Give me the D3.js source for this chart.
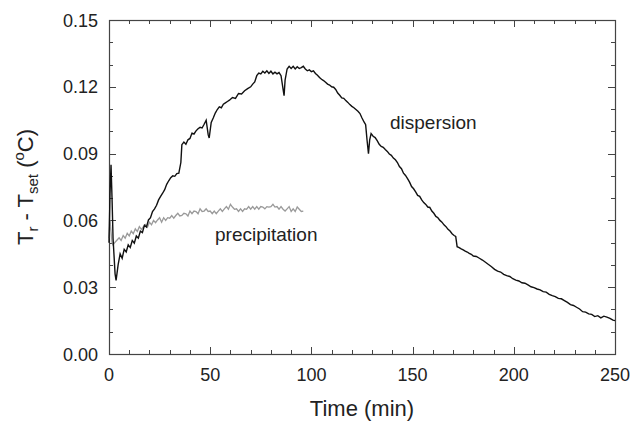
<!DOCTYPE html>
<html>
<head>
<meta charset="utf-8">
<script src="https://cdn.jsdelivr.net/npm/d3@7"></script>
<style>
  body { margin: 0; background: #fff; }
  text { font-family: "Liberation Sans", Arial, sans-serif; fill: #222; }
</style>
</head>
<body>
<div id="chart"></div>
<script>
var width = 632, height = 424;
var margin = { left: 109, right: 17, top: 20, bottom: 70 };

// dispersion run (black)
var dispT = [0, 0.5, 1, 1.5, 2, 3, 3.5, 4.5, 5.5, 6.5, 7.5, 8.5, 9.5, 10.5, 11.5, 12.5, 13.5, 14.5, 15.5, 16.5,
  17.5, 18.5, 19.5, 20.5, 21.5, 22.5, 23.5, 24.5, 25.5, 26.5, 27.5, 28.5, 29.5, 30.5, 31.5, 32.5, 33.5, 34.5, 35.5, 36,
  37, 38, 39, 40, 41, 42, 43, 44, 45, 46, 47, 48, 49, 49.5, 50.5, 51.5, 52.5, 53.5, 54.5, 55.5,
  56.5, 57.5, 58.5, 59.5, 61, 62.5, 64, 65.5, 67, 68.5, 70, 71, 72, 73, 74, 75, 76, 77, 78, 79,
  80, 81, 82, 83, 84, 85, 86, 86.5, 87, 88, 89, 90, 91, 92, 93, 94, 95, 96, 97, 98,
  99, 100, 101, 102, 103, 104, 105, 106, 107, 108, 109, 110, 111, 112, 113, 114, 115, 116, 117, 118,
  119, 120, 121, 122, 123, 124, 125, 126, 126.8, 127.5, 128.2, 128.8, 129.5, 130.5, 131.5, 132.5, 133.5, 134.5, 135.5, 136.5,
  137.5, 138.5, 139.5, 140.5, 141.5, 142.5, 143.5, 144.5, 145.5, 146.5, 147.5, 148.5, 149.5, 150.5, 151.5, 152.5, 153.5, 154.5, 155.5, 156.5,
  157.5, 158.5, 159.5, 160.5, 161.5, 162.5, 163.5, 164.5, 165.5, 166.5, 167.5, 168.5, 169.5, 170.5, 171.3, 172, 173, 174, 175, 176,
  177, 178, 179, 180, 181.5, 183, 184.5, 186, 187.5, 189, 190.5, 192, 193.5, 195, 196.5, 198, 199.5, 201, 202.5, 204,
  205.5, 207, 208.5, 210, 211.5, 213, 214.5, 216, 217.5, 219, 220.5, 222, 223.5, 225, 226.5, 228, 229.5, 231, 232.5, 234,
  235.5, 237, 238.5, 240, 241.5, 243, 244.5, 246, 247.5, 249, 250];
var dispV = [0.0500, 0.0720, 0.0850, 0.0700, 0.0520, 0.0360, 0.0330, 0.0400, 0.0450, 0.0430, 0.0470, 0.0458, 0.0490, 0.0478, 0.0510, 0.0498, 0.0530, 0.0520, 0.0552, 0.0545,
  0.0578, 0.0570, 0.0602, 0.0612, 0.0640, 0.0652, 0.0668, 0.0692, 0.0708, 0.0722, 0.0738, 0.0762, 0.0778, 0.0792, 0.0800, 0.0798, 0.0810, 0.0812, 0.0860, 0.0940,
  0.0952, 0.0942, 0.0962, 0.0968, 0.0992, 0.0988, 0.1002, 0.1012, 0.1018, 0.1015, 0.1032, 0.1050, 0.0985, 0.0970, 0.1040, 0.1060, 0.1082, 0.1098, 0.1110, 0.1106,
  0.1122, 0.1128, 0.1134, 0.1140, 0.1152, 0.1148, 0.1170, 0.1168, 0.1182, 0.1192, 0.1200, 0.1212, 0.1222, 0.1250, 0.1262, 0.1258, 0.1270, 0.1262, 0.1272, 0.1260,
  0.1270, 0.1258, 0.1266, 0.1258, 0.1264, 0.1250, 0.1190, 0.1160, 0.1230, 0.1280, 0.1292, 0.1282, 0.1292, 0.1280, 0.1290, 0.1282, 0.1286, 0.1292, 0.1280, 0.1272,
  0.1276, 0.1268, 0.1272, 0.1260, 0.1252, 0.1242, 0.1234, 0.1228, 0.1220, 0.1212, 0.1208, 0.1200, 0.1198, 0.1188, 0.1172, 0.1162, 0.1150, 0.1148, 0.1138, 0.1130,
  0.1120, 0.1112, 0.1106, 0.1098, 0.1090, 0.1080, 0.1060, 0.1042, 0.1030, 0.0960, 0.0900, 0.0962, 0.0990, 0.0978, 0.0972, 0.0958, 0.0942, 0.0932, 0.0928, 0.0918,
  0.0910, 0.0898, 0.0892, 0.0880, 0.0872, 0.0860, 0.0842, 0.0832, 0.0812, 0.0802, 0.0788, 0.0772, 0.0752, 0.0742, 0.0728, 0.0712, 0.0708, 0.0692, 0.0680, 0.0672,
  0.0660, 0.0658, 0.0642, 0.0632, 0.0618, 0.0612, 0.0600, 0.0592, 0.0580, 0.0572, 0.0560, 0.0552, 0.0540, 0.0532, 0.0528, 0.0482, 0.0478, 0.0472, 0.0468, 0.0462,
  0.0458, 0.0452, 0.0448, 0.0440, 0.0438, 0.0430, 0.0422, 0.0412, 0.0402, 0.0392, 0.0380, 0.0372, 0.0368, 0.0358, 0.0352, 0.0348, 0.0338, 0.0332, 0.0328, 0.0320,
  0.0318, 0.0310, 0.0302, 0.0298, 0.0292, 0.0288, 0.0280, 0.0278, 0.0268, 0.0262, 0.0258, 0.0250, 0.0248, 0.0240, 0.0232, 0.0222, 0.0218, 0.0210, 0.0202, 0.0190,
  0.0188, 0.0180, 0.0178, 0.0168, 0.0172, 0.0162, 0.0170, 0.0166, 0.0160, 0.0152, 0.0150];

// precipitation run (grey)
var precT = [0, 0.5, 1, 1.5, 2, 3, 4, 5, 6, 7, 8, 9, 10, 11, 12, 13, 14, 15, 16, 17,
  18, 19, 20, 21, 22, 23, 24, 25, 26, 27, 28, 29, 30, 31, 32, 33, 34, 35, 36, 37,
  38, 39, 40, 41, 42, 43, 44, 45, 46, 47, 48, 49, 50, 51, 52, 53, 54, 55, 56, 57,
  58, 59, 60, 61, 62, 63, 64, 65, 66, 67, 68, 69, 70, 71, 72, 73, 74, 75, 76, 77,
  78, 79, 80, 81, 82, 83, 84, 85, 86, 87, 88, 89, 90, 91, 92, 93, 94, 95, 96];
var precV = [0.0520, 0.0600, 0.0550, 0.0500, 0.0490, 0.0502, 0.0512, 0.0522, 0.0510, 0.0532, 0.0520, 0.0542, 0.0530, 0.0552, 0.0540, 0.0562, 0.0550, 0.0572, 0.0560, 0.0572,
  0.0582, 0.0570, 0.0592, 0.0580, 0.0600, 0.0590, 0.0602, 0.0612, 0.0592, 0.0612, 0.0600, 0.0612, 0.0610, 0.0622, 0.0610, 0.0622, 0.0632, 0.0620, 0.0622, 0.0632,
  0.0630, 0.0620, 0.0642, 0.0630, 0.0642, 0.0640, 0.0630, 0.0652, 0.0640, 0.0642, 0.0652, 0.0640, 0.0642, 0.0630, 0.0642, 0.0630, 0.0642, 0.0652, 0.0640, 0.0652,
  0.0662, 0.0650, 0.0672, 0.0660, 0.0650, 0.0652, 0.0640, 0.0652, 0.0640, 0.0652, 0.0650, 0.0662, 0.0650, 0.0662, 0.0650, 0.0662, 0.0650, 0.0662, 0.0660, 0.0652,
  0.0662, 0.0660, 0.0662, 0.0672, 0.0660, 0.0662, 0.0650, 0.0662, 0.0650, 0.0642, 0.0652, 0.0662, 0.0640, 0.0652, 0.0640, 0.0660, 0.0650, 0.0640, 0.0642];

var xTicks = [0, 50, 100, 150, 200, 250];
var yTicks = [0.00, 0.03, 0.06, 0.09, 0.12, 0.15];

////////////////////////////////////////////////////////////////////////////////

var svg = d3.select('#chart').append('svg')
    .attr('width', width)
    .attr('height', height);

var x = d3.scaleLinear().domain([0, 250]).range([margin.left, width - margin.right]);
var y = d3.scaleLinear().domain([0, 0.15]).range([height - margin.bottom, margin.top]);

var x0 = x(0), x1 = x(250), y0 = y(0), y1 = y(0.15);
var xMinor = d3.range(0, 251, 10);
var yMinor = d3.range(0, 16).map(function(d) { return d / 100; });

var axisColor = '#444';

// ticks, all pointing inward on four sides
var ticks = svg.append('g').attr('stroke', axisColor).attr('stroke-width', 1);
xMinor.forEach(function(t) {
    var len = (t % 50 == 0) ? 7 : 4;
    var px = Math.round(x(t)) + 0.5;
    ticks.append('line').attr('x1', px).attr('x2', px).attr('y1', y0).attr('y2', y0 - len);
    ticks.append('line').attr('x1', px).attr('x2', px).attr('y1', y1).attr('y2', y1 + len);
});
yMinor.forEach(function(v, i) {
    var len = (i % 3 == 0) ? 7 : 4;
    var py = Math.round(y(v)) + 0.5;
    ticks.append('line').attr('x1', x0).attr('x2', x0 + len).attr('y1', py).attr('y2', py);
    ticks.append('line').attr('x1', x1).attr('x2', x1 - len).attr('y1', py).attr('y2', py);
});

// frame
svg.append('rect')
    .attr('x', Math.round(x0) + 0.5)
    .attr('y', Math.round(y1) + 0.5)
    .attr('width', Math.round(x1) - Math.round(x0))
    .attr('height', Math.round(y0) - Math.round(y1))
    .attr('fill', 'none')
    .attr('stroke', axisColor)
    .attr('stroke-width', 1.2);

// tick labels
svg.selectAll('.xlab')
    .data(xTicks)
    .enter().append('text')
    .attr('class', 'xlab')
    .attr('x', function(d) { return x(d); })
    .attr('y', y0 + 27)
    .attr('text-anchor', 'middle')
    .attr('font-size', 18)
    .text(function(d) { return d; });

svg.selectAll('.ylab')
    .data(yTicks)
    .enter().append('text')
    .attr('class', 'ylab')
    .attr('x', x0 - 11)
    .attr('y', function(d) { return y(d) + 6.5; })
    .attr('text-anchor', 'end')
    .attr('font-size', 18)
    .text(function(d) { return d3.format('.2f')(d); });

// axis titles
svg.append('text')
    .attr('x', (x0 + x1) / 2)
    .attr('y', 416)
    .attr('text-anchor', 'middle')
    .attr('font-size', 22)
    .text('Time (min)');

var yt = svg.append('text')
    .attr('transform', 'translate(33,' + ((y0 + y1) / 2) + ') rotate(-90)')
    .attr('text-anchor', 'middle')
    .attr('font-size', 22);
yt.append('tspan').text('T');
yt.append('tspan').attr('font-size', 15).attr('dy', 5).text('r');
yt.append('tspan').attr('dy', -5).text(' - T');
yt.append('tspan').attr('font-size', 15).attr('dy', 5).text('set');
yt.append('tspan').attr('dy', -5).text(' (');
yt.append('tspan').attr('font-size', 15).attr('dy', -9).text('o');
yt.append('tspan').attr('dy', 9).text('C)');

// series
var line = d3.line()
    .x(function(d) { return x(d[0]); })
    .y(function(d) { return y(d[1]); });

svg.append('path')
    .datum(d3.zip(precT, precV))
    .attr('fill', 'none')
    .attr('stroke', '#9a9a9a')
    .attr('stroke-width', 1.3)
    .attr('d', line);

svg.append('path')
    .datum(d3.zip(dispT, dispV))
    .attr('fill', 'none')
    .attr('stroke', '#111')
    .attr('stroke-width', 1.4)
    .attr('d', line);

// labels
svg.append('text')
    .attr('x', 390)
    .attr('y', 129)
    .attr('font-size', 19)
    .text('dispersion');

svg.append('text')
    .attr('x', 215)
    .attr('y', 241)
    .attr('font-size', 19)
    .text('precipitation');
</script>
</body>
</html>
